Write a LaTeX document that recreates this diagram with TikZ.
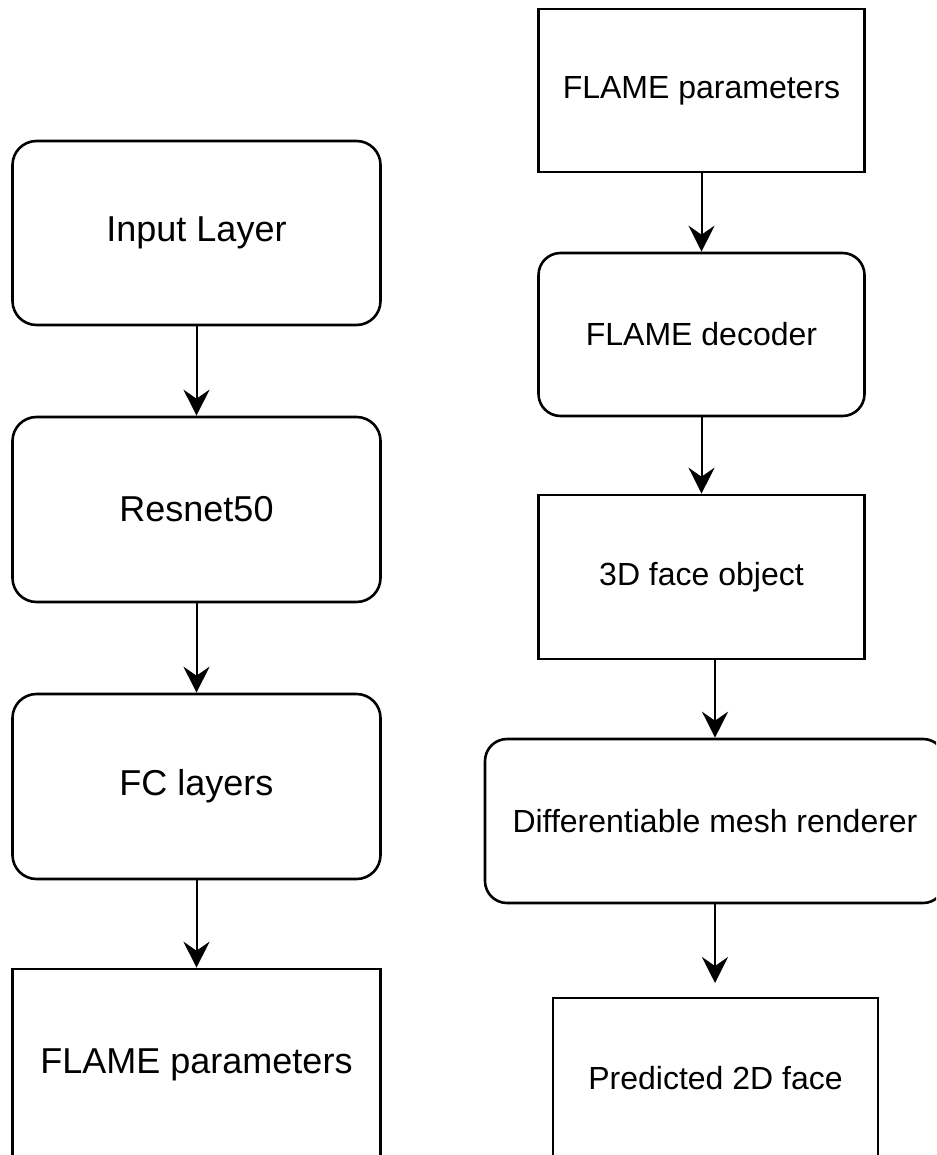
\documentclass[tikz,border=0pt]{standalone}
\usepackage{fontspec}
\setmainfont{Liberation Sans}
\usetikzlibrary{arrows.meta}

\tikzset{
  block/.style={draw=black, line width=2.6pt, fill=white, inner sep=0pt, align=center},
  roundblock/.style={block, rounded corners=24pt},
  bigtext/.style={font=\fontsize{36}{42}\selectfont},
  smalltext/.style={font=\fontsize{32}{38}\selectfont},
  flow/.style={draw=black, line width=2pt,
    -{Stealth[length=26pt, width=26pt, inset=9pt]}},
}

\begin{document}
\begin{tikzpicture}[x=1pt, y=-1pt]
  \useasboundingbox (0,0) rectangle (936,1155);
  \clip (0,0) rectangle (936,1155);
  \fill[white] (0,0) rectangle (936,1155);

  % encoder column
  \node[roundblock, bigtext, minimum width=368pt, minimum height=184pt] (inp) at (196.5,233) {Input Layer};
  \node[roundblock, bigtext, minimum width=368pt, minimum height=185pt] (res) at (196.5,509.5) {Resnet50};
  \node[roundblock, bigtext, minimum width=368pt, minimum height=185pt] (fc) at (196.5,786.5) {FC layers};
  \node[block, bigtext, minimum width=368pt, minimum height=192pt] (fpl) at (196.5,1065) {FLAME parameters};

  % decoder / rendering column
  \node[block, smalltext, minimum width=326pt, minimum height=163pt] (fpr) at (701.5,90.5) {FLAME parameters};
  \node[roundblock, smalltext, rounded corners=22pt, minimum width=326pt, minimum height=163pt] (dec) at (701.5,334.5) {FLAME decoder};
  \node[block, smalltext, minimum width=326pt, minimum height=164pt] (obj) at (701.5,577) {3D face object};
  \node[roundblock, smalltext, rounded corners=22pt, minimum width=460pt, minimum height=164pt] (ren) at (715,821) {Differentiable mesh renderer};
  \node[block, smalltext, minimum width=325pt, minimum height=160pt] (pred) at (715.5,1078) {Predicted 2D face};
  \coordinate (predin) at (715,983);

  % connectors
  \draw[flow] (inp.south) -- (res.north);
  \draw[flow] (res.south) -- (fc.north);
  \draw[flow] (fc.south) -- (fpl.north);
  \draw[flow] (fpr.south) -- (dec.north);
  \draw[flow] (dec.south) -- (obj.north);
  \draw[flow] (obj.south -| ren.north) -- (ren.north);
  \draw[flow] (ren.south) -- (predin);
\end{tikzpicture}
\end{document}
